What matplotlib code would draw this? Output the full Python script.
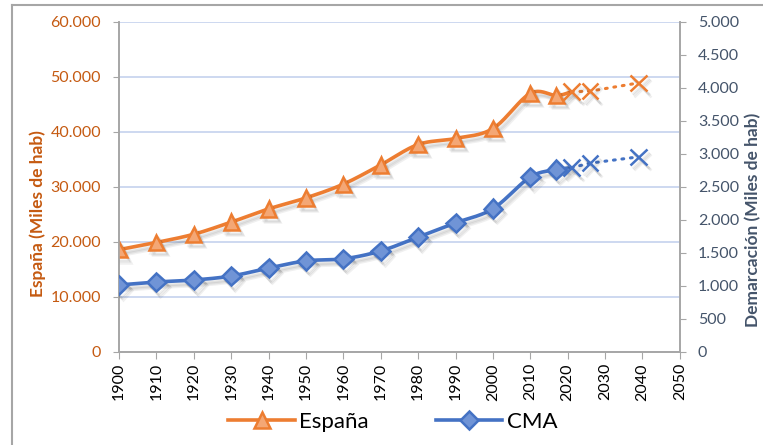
import numpy as np
import matplotlib.pyplot as plt
import matplotlib.patheffects as pe
from matplotlib.lines import Line2D
from matplotlib.ticker import FuncFormatter

# Población (miles de habitantes)
years = [1900, 1910, 1920, 1930, 1940, 1950, 1960, 1970, 1980, 1990, 2000, 2010, 2017]
espana = [18600, 19900, 21400, 23600, 26000, 28000, 30500, 34000, 37700, 38800, 40600, 47000, 46600]
cma = [1015, 1060, 1090, 1150, 1270, 1380, 1410, 1530, 1740, 1955, 2170, 2650, 2760]

# Proyecciones
proj_years = [2021, 2026, 2039]
espana_proj = [47300, 47400, 48900]
cma_proj = [2790, 2860, 2955]

ORANGE = "#ED7D31"
ORANGE_FILL = "#F4A775"
BLUE = "#4472C4"
BLUE_FILL = "#7094D6"
ORANGE_TXT = "#C55A11"
SLATE = "#44546A"
GRID = "#C5D2EE"
AXIS = "#A6A6A6"

plt.rcParams["font.family"] = ["Lato", "DejaVu Sans"]


def smooth(x, y, n=20):
    # curva Catmull-Rom entre los puntos (como la línea suavizada de Excel)
    x = np.asarray(x, float)
    y = np.asarray(y, float)
    px = np.concatenate([[x[0]], x, [x[-1]]])
    py = np.concatenate([[y[0]], y, [y[-1]]])
    xs, ys = [], []
    t = np.linspace(0, 1, n, endpoint=False)
    for i in range(1, len(px) - 2):
        for arr, out in ((px, xs), (py, ys)):
            p0, p1, p2, p3 = arr[i - 1], arr[i], arr[i + 1], arr[i + 2]
            out.extend(0.5 * ((2 * p1) + (-p0 + p2) * t
                              + (2 * p0 - 5 * p1 + 4 * p2 - p3) * t ** 2
                              + (-p0 + 3 * p1 - 3 * p2 + p3) * t ** 3))
    xs.append(x[-1])
    ys.append(y[-1])
    return xs, ys


# sombra difusa: varias capas desplazadas muy transparentes
shadow = [pe.SimpleLineShadow(offset=(2 + d, -3 - d), shadow_color="black", alpha=0.06)
          for d in (-0.8, 0, 0.8)] + [pe.Normal()]
fmt = FuncFormatter(lambda v, p: f"{v:,.0f}".replace(",", "."))

fig = plt.figure(figsize=(7.63, 4.45), dpi=100)
ax = fig.add_axes([0.156, 0.209, 0.735, 0.742])
ax2 = ax.twinx()

# España (eje izquierdo)
sx, sy = smooth(years + proj_years[:1], espana + espana_proj[:1])
ax.plot(sx, sy, color=ORANGE, lw=2.6, solid_capstyle="round", path_effects=shadow, zorder=3)
ax.plot(proj_years, espana_proj, color=ORANGE, lw=2.2, ls=(0, (0.6, 2.2)),
        dash_capstyle="round", zorder=3)
ax.plot(years, espana, ls="none", marker="^", ms=11, mfc=ORANGE_FILL, mec=ORANGE,
        mew=1.8, path_effects=shadow, zorder=4)
ax.plot(proj_years, espana_proj, ls="none", marker="x", ms=12, mec=ORANGE, mew=1.8,
        path_effects=shadow, zorder=4)

# CMA (eje derecho)
cx, cy = smooth(years + proj_years[:1], cma + cma_proj[:1])
ax2.plot(cx, cy, color=BLUE, lw=2.6, solid_capstyle="round", path_effects=shadow, zorder=3)
ax2.plot(proj_years, cma_proj, color=BLUE, lw=2.2, ls=(0, (0.6, 2.2)),
         dash_capstyle="round", zorder=3)
ax2.plot(years, cma, ls="none", marker="D", ms=9.5, mfc=BLUE_FILL, mec=BLUE,
         mew=1.8, path_effects=shadow, zorder=4)
ax2.plot(proj_years, cma_proj, ls="none", marker="x", ms=12, mec=BLUE, mew=1.8,
         path_effects=shadow, zorder=4)

ax.set_xlim(1900, 2050)
ax.set_xticks(range(1900, 2051, 10))
ax.tick_params(axis="x", labelrotation=90, labelsize=11.5, colors=AXIS,
               labelcolor="black", length=5, pad=3)
ax.set_ylim(0, 60000)
ax.set_yticks(range(0, 60001, 10000))
ax.yaxis.set_major_formatter(fmt)
ax.tick_params(axis="y", labelsize=11.5, colors=AXIS, labelcolor=ORANGE_TXT, length=4, pad=9)
ax.grid(axis="y", color=GRID, lw=1.2)
ax.set_axisbelow(True)

ax2.set_ylim(0, 5000)
ax2.set_yticks(range(0, 5001, 500))
ax2.yaxis.set_major_formatter(fmt)
ax2.tick_params(axis="y", labelsize=11.5, colors=AXIS, labelcolor=SLATE, length=4, pad=9)

for a in (ax, ax2):
    a.spines["top"].set_visible(False)
    for side in ("left", "right", "bottom"):
        a.spines[side].set_color(AXIS)
        a.spines[side].set_linewidth(1.2)

ax.set_ylabel("España (Miles de hab)", color=ORANGE_TXT, fontsize=12.5, fontweight="bold")
ax.yaxis.set_label_coords(-0.131, 0.42)
ax2.set_ylabel("Demarcación (Miles de hab)", color=SLATE, fontsize=12.5, fontweight="bold")
ax2.yaxis.set_label_coords(1.117, 0.40)

handles = [
    Line2D([], [], color=ORANGE, lw=2.6, marker="^", ms=11, mfc=ORANGE_FILL, mec=ORANGE, mew=1.8),
    Line2D([], [], color=BLUE, lw=2.6, marker="D", ms=9.5, mfc=BLUE_FILL, mec=BLUE, mew=1.8),
]
fig.legend(handles, ["España", "CMA"], loc="center", bbox_to_anchor=(0.515, 0.052),
           ncol=2, frameon=False, fontsize=16, handlelength=3.0, columnspacing=3.0,
           handletextpad=0.2)

# marco exterior del gráfico
fig.add_artist(Line2D([0.0157, 0.0157], [0, 0.989], color=AXIS, lw=1.5, transform=fig.transFigure))
fig.add_artist(Line2D([0.0157, 1], [0.989, 0.989], color=AXIS, lw=1.5, transform=fig.transFigure))

fig.savefig("out.png", dpi=100)
